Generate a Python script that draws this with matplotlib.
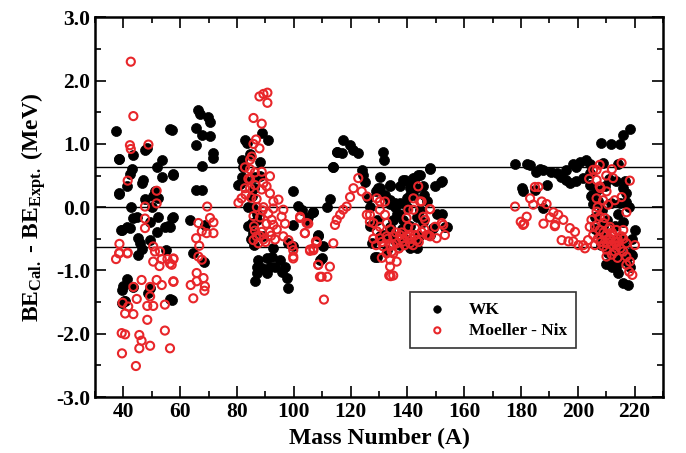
import numpy as np
import matplotlib.pyplot as plt
from matplotlib.ticker import MultipleLocator, FormatStrFormatter

plt.rcParams['font.family'] = 'Liberation Serif'
plt.rcParams['font.weight'] = 'bold'
plt.rcParams['mathtext.fontset'] = 'custom'
plt.rcParams['mathtext.rm'] = 'Liberation Serif:bold'
plt.rcParams['mathtext.it'] = 'Liberation Serif:bold'
plt.rcParams['mathtext.bf'] = 'Liberation Serif:bold'
plt.rcParams['axes.unicode_minus'] = False

# WK (mass number, BE_cal - BE_expt)
wk_A = [37.4, 56.4, 38.6, 43.5, 47.6, 48.2, 53.5, 51.7, 42.9, 42.3, 57.6, 53.5, 47.0, 46.4, 41.1,
        38.6, 51.1, 50.5, 47.6, 52.3, 42.6, 49.9, 43.5, 44.7, 52.3, 57.6, 54.6, 55.8, 49.4, 39.4,
        42.3, 41.1, 51.7, 45.3, 45.8, 49.4, 46.4, 45.3, 55.0, 41.1, 40.0, 39.4, 43.5, 49.4, 48.8,
        39.4, 40.6, 56.4, 38.3, 38.5, 39.2, 40.2,
        57.0, 57.6, 57.0, 56.4, 57.0, 66.4, 67.0, 69.9, 70.5, 65.6, 67.6, 70.5, 65.6, 71.7, 71.7,
        67.6, 65.6, 67.6, 63.4, 68.7, 64.6, 68.2,
        88.7, 91.0, 82.8, 83.4, 81.6, 84.6, 88.1, 82.2, 81.1, 82.8, 86.3, 99.8, 85.2, 85.8, 101.6,
        106.9, 86.9, 85.2, 85.8, 99.8, 105.1, 98.1, 99.8, 92.8, 87.5, 90.4, 92.2, 95.1, 86.9, 88.7,
        91.6, 93.4, 96.9, 86.9, 90.4, 95.7, 86.3, 97.5, 98.1, 109.2, 80.5, 81.6,
        84.0, 85.0, 86.0, 84.0, 87.0, 89.0, 86.0, 88.0,
        117.4, 119.8, 115.1, 116.9, 121.0, 122.7, 113.7, 123.9, 125.1, 129.8, 112.7, 111.6, 106.9,
        102.8, 104.5, 108.6, 110.4, 109.8, 127.4, 129.2, 126.2, 115.1, 113.9, 108.6,
        124.5, 130.3, 131.5, 131.9, 130.3, 133.9, 137.4, 139.2, 140.9, 142.7, 143.8, 148.0, 145.6,
        152.1, 149.7, 126.8, 133.9, 135.6, 137.4, 139.7, 142.1, 128.6, 132.7, 136.2, 135.0, 138.6,
        143.3, 145.6, 152.1, 153.2, 143.3, 137.4, 149.1, 148.0, 126.8, 129.2, 131.5, 133.9,
        147.9, 138.5, 142.1, 144.4, 152.0, 133.8, 140.9, 135.6, 129.1, 144.4, 150.3, 153.8, 143.2,
        140.9, 130.3, 133.8,
        134.0, 136.0, 138.0, 139.0, 141.0, 142.0, 144.0, 146.0, 147.0, 132.0, 134.0, 137.0, 140.0,
        141.0, 143.0,
        177.8, 182.1, 183.1, 185.4, 187.8, 190.7, 192.5, 194.2, 196.0, 198.3, 200.7, 203.0, 204.2,
        196.0, 199.5, 197.2, 199.5, 201.9, 204.2, 180.2, 180.7, 189.0, 184.8, 187.8, 186.7, 204.2,
        204.8, 206.6, 209.5, 213.6, 216.5, 217.1, 211.8, 214.8, 217.1, 215.9, 220.1, 206.0, 210.1,
        210.7, 212.4, 214.8, 218.3, 214.2, 216.0, 217.7, 218.3, 209.5, 213.0, 218.3, 215.9, 208.3,
        211.8, 214.8, 214.2, 207.5, 212.0, 208.5, 205.5, 211.0, 216.0, 209.0, 213.5,
        206.0, 208.0, 210.0, 212.0, 213.0, 215.0, 216.0, 217.0, 219.0, 218.0, 207.0, 205.0, 209.0,
        211.0, 214.0, 216.0, 208.0, 211.0, 214.0, 219.0]
wk_BE = [1.21, 1.23, 0.76, 0.82, 0.90, 0.93, 0.74, 0.64, 0.60, 0.53, 0.52, 0.47, 0.43, 0.39, 0.33,
         0.21, 0.25, 0.17, 0.13, 0.14, 0.00, 0.01, -0.17, -0.15, -0.15, -0.16, -0.31, -0.30, -0.23, -0.36,
         -0.33, -0.31, -0.39, -0.49, -0.57, -0.52, -0.66, -0.75, -0.67, -1.14, -1.25, -1.31, -1.26, -1.28, -1.36,
         -1.52, -1.49, -1.45, 0.76, 0.22, -0.36, -1.49,
         1.22, 0.51, -0.17, -0.31, -1.46, 1.54, 1.48, 1.43, 1.35, 1.25, 1.14, 1.12, 0.98, 0.85, 0.77,
         0.65, 0.27, 0.27, -0.21, -0.28, -0.72, -0.86,
         1.18, 1.06, 1.06, 1.01, 0.75, 0.84, 0.72, 0.64, 0.37, 0.43, 0.48, 0.25, 0.17, -0.02, 0.02,
         -0.07, -0.10, -0.25, -0.41, -0.28, -0.16, -0.56, -0.62, -0.65, -0.83, -0.81, -0.78, -0.83, -0.94, -0.96,
         -0.94, -0.94, -0.94, -1.04, -1.04, -1.02, -1.17, -1.12, -1.28, -0.83, 0.35, 0.48,
         -0.30, -0.50, -0.60, 0.00, -0.20, -0.45, 0.30, 0.50,
         1.06, 0.98, 0.88, 0.85, 0.90, 0.86, 0.64, 0.59, 0.40, 0.30, 0.13, 0.00, -0.07,
         -0.04, -0.20, -0.46, -0.62, -0.81, -0.57, -0.78, 0.14, 0.88, 0.64, -0.44,
         0.51, 0.48, 0.88, 0.75, 0.30, 0.35, 0.33, 0.43, 0.38, 0.46, 0.51, 0.60, 0.33,
         0.41, 0.33, 0.01, 0.12, 0.01, 0.06, 0.14, 0.19, -0.78, -0.68, -0.10, -0.20, -0.20,
         -0.15, -0.23, -0.10, -0.31, -0.65, -0.60, -0.33, -0.44, -0.30, -0.20, -0.44, -0.36,
         0.62, 0.43, 0.46, 0.51, 0.40, 0.33, 0.30, 0.06, 0.25, -0.04, -0.10, -0.31, -0.52,
         -0.65, -0.46, -0.31,
         -0.45, -0.55, -0.35, -0.50, -0.30, -0.60, -0.45, 0.20, 0.10, 0.20, 0.05, -0.10, 0.00,
         0.20, 0.30,
         0.68, 0.68, 0.67, 0.56, 0.59, 0.56, 0.54, 0.48, 0.43, 0.69, 0.72, 0.75, 0.69,
         0.59, 0.64, 0.38, 0.41, 0.46, 0.54, 0.30, 0.25, 0.35, 0.27, -0.02, 0.60, 0.35,
         0.17, 0.27, 0.33, 0.41, 0.41, 0.22, 0.06, 0.06, 0.09, -0.23, -0.36, -0.15, -0.20,
         -0.73, -0.78, -0.73, -0.73, -1.04, -1.20, -1.23, -0.94, -0.52, -0.52, 1.23, 1.14, 1.01,
         1.00, 1.00, 0.69, -0.40, -0.62, -0.05, 0.05, -0.90, -0.60, -0.30, -0.95,
         -0.35, -0.45, -0.90, -0.95, -0.30, -0.50, -0.60, -0.85, -0.50, 0.00, 0.10, 0.20, 0.70,
         0.45, -0.10, 0.30, -0.60, -0.70, -0.85, -0.75]

# Moeller - Nix
mn_A = [42.6, 43.5, 42.3, 42.6, 48.8, 41.5, 51.7, 51.7, 47.6, 47.6, 47.6, 38.6, 38.6, 37.4, 41.5,
        50.5, 51.1, 52.9, 50.5, 52.7, 53.5, 55.5, 57.6, 56.4, 46.4, 51.7, 53.5, 57.6, 43.5, 49.4,
        49.4, 44.7, 39.7, 41.7, 40.6, 43.5, 48.4, 50.5, 54.6, 48.4, 39.4, 40.6, 45.6, 54.6, 46.4,
        45.6, 49.4, 56.4, 39.5, 44.4, 38.5, 41.4, 57.0,
        69.5, 70.5, 71.7, 66.4, 67.6, 69.3, 71.7, 65.6, 66.7, 57.6, 66.4, 67.6, 65.8, 68.2, 63.7,
        65.8, 68.7, 68.5, 57.6, 64.6,
        87.9, 89.3, 90.7, 90.7, 85.8, 88.7, 86.7, 85.8, 87.9, 85.2, 84.6, 82.8, 84.6, 86.3, 88.7,
        91.6, 84.6, 89.3, 90.4, 82.8, 84.6, 86.3, 88.7, 91.6, 81.6, 80.5, 86.9, 92.8, 94.6, 89.3,
        92.8, 96.3, 85.8, 88.1, 92.2, 95.7, 90.4, 92.8, 96.9, 86.3, 88.7, 91.6, 94.0, 102.2, 104.5,
        86.9, 89.3, 85.8, 96.3, 98.1, 99.3, 99.8, 93.4, 87.5, 103.9, 108.1, 105.7, 106.9, 99.8,
        108.6, 109.2, 99.8,
        83.0, 85.0, 87.0, 89.0, 91.0, 86.0, 88.0, 90.0, 92.0, 84.0,
        122.7, 121.0, 119.8, 123.9, 125.7, 129.2, 118.6, 117.4, 116.3, 115.1, 114.5, 103.9, 107.8,
        105.7, 106.9, 113.9, 108.6, 112.7, 109.8, 111.8, 110.6, 102.2, 105.1, 125.7, 126.8,
        132.1, 143.8, 142.1, 145.0, 148.0, 140.3, 142.1, 126.8, 130.3, 132.1, 128.0, 132.7, 145.6,
        146.2, 140.3, 142.7, 129.2, 130.3, 132.7, 135.0, 137.4, 139.7, 143.3, 146.8, 149.7, 152.1,
        153.2, 150.3, 148.0, 131.5, 133.9, 136.2, 138.6, 140.9, 132.7, 135.0, 133.9, 136.2, 133.9,
        133.6, 135.0, 142.7, 145.0, 130.3, 144.4, 147.9, 130.3, 139.7, 152.6, 147.3, 134.1, 137.0,
        138.0, 141.5, 134.5,
        131.0, 133.0, 134.0, 135.0, 136.0, 137.0, 138.0, 139.0, 141.0, 142.0, 144.0, 146.0, 128.0,
        129.0, 131.0,
        184.9, 186.1, 183.2, 187.3, 189.0, 177.9, 184.3, 182.0, 179.9, 181.1, 191.4, 193.1, 190.2,
        194.9, 187.9, 192.0, 197.2, 199.0, 194.3, 196.7, 198.4, 200.2, 180.7, 191.9, 201.9, 202.5,
        207.7, 215.4, 206.6, 212.4, 218.3, 206.6, 207.7, 210.1, 206.6, 208.9, 213.0, 215.4, 210.7,
        217.1, 206.6, 207.7, 204.8, 209.5, 204.2, 205.4, 207.7, 211.3, 213.6, 216.0, 210.1, 212.4,
        215.4, 210.1, 213.6, 217.1, 220.1, 203.6, 210.1, 213.0, 216.0, 210.1, 217.1, 218.3, 217.1,
        218.1, 219.2, 205.4, 211.5, 214.0, 209.0, 212.0,
        206.0, 207.0, 208.0, 209.0, 211.0, 212.0, 213.0, 214.0, 215.0, 216.0, 212.0, 214.0, 211.0,
        209.0, 207.0, 208.0, 210.0, 212.0, 204.0, 206.0]
mn_BE = [2.30, 1.44, 0.98, 0.92, 0.99, 0.42, 0.26, 0.06, 0.01, -0.18, -0.33, -0.58, -0.72, -0.82, -0.72,
         -0.62, -0.70, -0.70, -0.86, -0.93, -0.82, -0.82, -0.81, -0.89, -1.15, -1.15, -1.23, -1.17, -1.26, -1.26,
         -1.41, -1.45, -1.51, -1.57, -1.68, -1.69, -1.56, -1.56, -1.54, -1.78, -1.99, -2.01, -2.02, -1.95, -2.11,
         -2.23, -2.19, -2.23, -2.31, -2.51, -0.73, -0.73, -0.91,
         0.01, -0.17, -0.24, -0.25, -0.38, -0.41, -0.41, -0.49, -0.61, -0.82, -0.78, -0.83, -1.04, -1.12, -1.23,
         -1.17, -1.25, -1.32, -1.18, -1.44,
         1.75, 1.79, 1.81, 1.65, 1.41, 1.32, 1.07, 1.00, 0.93, 0.80, 0.75, 0.63, 0.60, 0.55, 0.56,
         0.49, 0.44, 0.38, 0.33, 0.30, 0.30, 0.35, 0.28, 0.22, 0.14, 0.07, 0.13, 0.09, 0.12, 0.00,
         -0.02, -0.04, -0.14, -0.16, -0.20, -0.15, -0.26, -0.28, -0.26, -0.37, -0.39, -0.39, -0.35, -0.15, -0.25,
         -0.46, -0.51, -0.52, -0.46, -0.52, -0.61, -0.68, -0.51, -0.57, -0.41, -0.56, -0.69, -0.65, -0.78,
         -0.91, -1.10, -0.81,
         0.20, 0.15, 0.00, -0.05, -0.10, -0.30, -0.45, -0.55, -0.45, 0.45,
         0.46, 0.30, 0.16, 0.25, 0.17, 0.14, 0.01, -0.04, -0.12, -0.20, -0.28, -0.41, -0.54,
         -0.67, -0.68, -0.57, -0.91, -0.94, -1.10, -1.10, -1.46, -0.17, -0.26, -0.12, -0.23,
         0.09, 0.33, 0.14, 0.09, -0.03, -0.04, -0.04, -0.12, -0.04, -0.12, -0.25, -0.25, -0.15,
         -0.20, -0.31, -0.33, -0.38, -0.49, -0.46, -0.46, -0.44, -0.46, -0.52, -0.44, -0.31, -0.25,
         -0.44, -0.49, -0.46, -0.62, -0.60, -0.57, -0.54, -0.57, -0.73, -0.73, -0.83, -0.86, -0.94,
         -1.08, -1.08, -0.44, -0.39, -0.31, 0.09, -0.03, 0.09, -0.17, -0.28, -0.44, -1.09, -0.65,
         -0.40, -0.50, -0.70,
         -0.55, -0.50, -0.35, -0.60, -0.40, -0.65, -0.50, -0.60, -0.45, -0.60, -0.55, -0.35, -0.50,
         -0.60, -0.80,
         0.32, 0.32, 0.14, 0.09, 0.05, 0.01, 0.04, -0.15, -0.23, -0.26, -0.08, -0.12, -0.16,
         -0.20, -0.26, -0.28, -0.33, -0.39, -0.52, -0.54, -0.54, -0.60, -0.28, -0.30, -0.60, -0.65,
         0.67, 0.70, 0.59, 0.46, 0.42, 0.43, 0.33, 0.25, 0.14, 0.11, 0.11, 0.16, 0.04,
         -0.08, -0.07, -0.15, -0.20, -0.17, -0.31, -0.44, -0.36, -0.31, -0.36, -0.36, -0.44, -0.44,
         -0.46, -0.57, -0.60, -0.57, -0.60, -0.52, -0.67, -0.70, -0.70, -0.78, -0.78, -0.86, -0.91,
         -1.02, -1.07, 0.59, -0.50, -0.55, -0.62, -0.40,
         -0.30, -0.50, -0.55, -0.40, -0.50, -0.60, -0.55, -0.50, -0.65, -0.50, -0.75, -0.80, -0.35,
         -0.25, 0.00, 0.30, 0.50, 0.60, 0.45, -0.60]

band = 0.63

fig = plt.figure(figsize=(6.86, 4.53), dpi=100)
ax = fig.add_axes([0.1385, 0.1236, 0.828, 0.838])

ax.axhline(0.0, color='black', lw=1.0, zorder=1)
ax.axhline(band, color='black', lw=1.0, zorder=1)
ax.axhline(-band, color='black', lw=1.0, zorder=1)

ax.scatter(wk_A, wk_BE, s=52, color='black', edgecolors='black', linewidths=0.5, zorder=2, label='WK')
ax.scatter(mn_A, mn_BE, s=34, facecolors='none', edgecolors='#e8262a', linewidths=1.5, zorder=3,
           label='Moeller - Nix')

ax.set_xlim(30, 230)
ax.set_ylim(-3, 3)
ax.xaxis.set_major_locator(MultipleLocator(20))
ax.xaxis.set_minor_locator(MultipleLocator(10))
ax.yaxis.set_major_locator(MultipleLocator(1.0))
ax.yaxis.set_minor_locator(MultipleLocator(0.5))
ax.yaxis.set_major_formatter(FormatStrFormatter('%.1f'))
ax.tick_params(which='both', direction='in', top=True, right=True, width=1.2, labelsize=15.5)
ax.tick_params(which='major', length=8)
ax.tick_params(which='minor', length=4)
for sp in ax.spines.values():
    sp.set_linewidth(1.8)

ax.set_xlabel('Mass Number (A)', fontsize=17, fontweight='bold', labelpad=4)
ax.set_ylabel(r'BE$_{\rm Cal.}$ - BE$_{\rm Expt.}$ (MeV)', fontsize=17, fontweight='bold', labelpad=6)

leg = ax.legend(loc='lower left', bbox_to_anchor=(0.54, 0.105), fancybox=False, edgecolor='black',
                fontsize=12.5, handletextpad=0.8, borderpad=0.55, labelspacing=0.3, markerscale=0.75)
leg.get_frame().set_linewidth(1.2)

fig.savefig('out.png', dpi=100)
